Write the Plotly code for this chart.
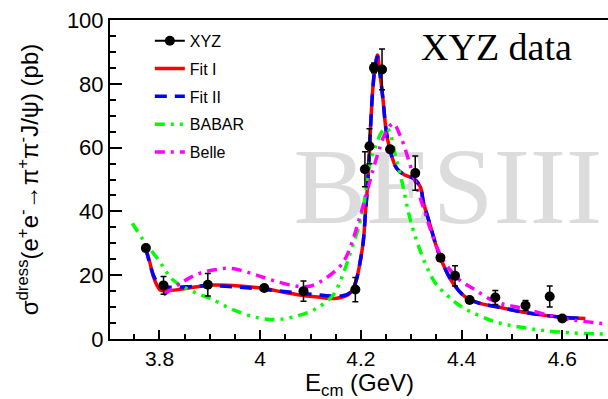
import plotly.graph_objects as go

# ---------------- data ----------------
xyz_x = [3.773, 3.808, 3.896, 4.008, 4.086, 4.189, 4.208, 4.217, 4.226, 4.242,
         4.258, 4.308, 4.358, 4.387, 4.416, 4.467, 4.527, 4.575, 4.600]
xyz_y = [28.5, 16.8, 17.0, 16.0, 15.0, 15.5, 53.2, 60.4, 85.0, 84.5,
         59.5, 52.0, 25.5, 19.8, 12.2, 13.0, 10.5, 13.3, 6.4]
xyz_err = [0.8, 2.8, 3.5, 0.8, 3.2, 3.8, 5.5, 5.5, 1.5, 6.4,
           1.0, 5.4, 1.0, 3.2, 0.8, 2.2, 1.6, 3.3, 0.8]

fit1_x = [3.773, 3.780, 3.788, 3.795, 3.801, 3.815, 3.834, 3.867, 3.907, 3.960,
          4.006, 4.052, 4.092, 4.119, 4.132, 4.152, 4.168, 4.178, 4.185, 4.191,
          4.198, 4.205, 4.209, 4.213, 4.216, 4.223, 4.228, 4.233, 4.237, 4.244,
          4.250, 4.258, 4.271, 4.287, 4.304, 4.318, 4.324, 4.337, 4.350, 4.363,
          4.383, 4.409, 4.440, 4.467, 4.527, 4.600, 4.646]
fit1_y = [28.2, 24.5, 19.5, 16.8, 15.4, 15.2, 15.4, 16.2, 16.9, 16.6,
          15.9, 14.5, 13.5, 13.1, 12.8, 12.8, 13.4, 14.3, 16.0, 18.5,
          23.7, 31.0, 39.4, 47.7, 56.0, 77.0, 85.3, 89.0, 84.3, 75.0,
          65.5, 59.2, 53.5, 51.4, 50.4, 47.7, 43.0, 36.0, 29.0, 23.5,
          17.5, 13.0, 11.0, 10.2, 8.3, 6.8, 6.4]

fit2_x = fit1_x
fit2_y = [28.2, 24.0, 20.0, 17.8, 16.6, 16.3, 16.2, 16.5, 16.7, 16.2,
          15.6, 14.8, 14.2, 13.8, 13.6, 13.4, 13.7, 14.5, 16.0, 18.5,
          23.7, 31.0, 39.4, 47.7, 56.0, 77.0, 85.0, 88.5, 84.3, 75.0,
          65.5, 59.2, 53.5, 51.4, 50.4, 47.7, 43.0, 36.0, 29.0, 23.5,
          17.5, 13.0, 11.0, 10.2, 8.3, 6.8, 6.4]

babar_x = [3.746, 3.768, 3.798, 3.827, 3.874, 3.900, 3.947, 4.000, 4.040, 4.079,
           4.112, 4.145, 4.165, 4.181, 4.194, 4.205, 4.211, 4.219, 4.229, 4.242,
           4.252, 4.259, 4.269, 4.282, 4.295, 4.308, 4.328, 4.348, 4.374, 4.401,
           4.467, 4.534, 4.600, 4.690]
babar_y = [36.3, 31.0, 24.8, 18.5, 14.3, 12.8, 9.1, 6.5, 6.2, 7.5,
           9.6, 13.8, 20.6, 27.9, 34.2, 41.5, 47.7, 56.0, 60.3, 65.0,
           66.0, 64.0, 57.2, 49.0, 39.4, 32.1, 23.7, 17.5, 13.3, 10.0,
           5.4, 3.3, 2.1, 1.5]

belle_x = [3.808, 3.847, 3.880, 3.914, 3.933, 3.960, 3.993, 4.033, 4.079, 4.100,
           4.125, 4.158, 4.171, 4.184, 4.198, 4.211, 4.224, 4.234, 4.247, 4.264,
           4.279, 4.297, 4.313, 4.330, 4.343, 4.363, 4.396, 4.422, 4.467, 4.521,
           4.600, 4.690]
belle_y = [13.8, 18.0, 20.6, 21.8, 22.2, 21.6, 20.0, 18.0, 16.4, 16.6,
           18.5, 22.7, 25.8, 31.0, 38.3, 45.5, 53.0, 58.2, 64.0, 67.5,
           63.4, 55.0, 46.7, 38.3, 32.1, 24.8, 18.5, 15.9, 11.7, 9.6,
           6.5, 4.7]

x_ticks = [3.8, 4.0, 4.2, 4.4, 4.6]
x_tick_labels = ["3.8", "4", "4.2", "4.4", "4.6"]
y_ticks = [0, 20, 40, 60, 80, 100]

FONT = "Liberation Sans, Arial, sans-serif"
SERIF = "Liberation Serif, Times New Roman, serif"

fig = go.Figure()

# watermark (drawn first so it sits behind the curves)
fig.add_trace(go.Scatter(
    x=[4.373], y=[45.0], mode="text", text=["BESIII"],
    textfont=dict(family=SERIF, size=109, color="#dcdcdc"),
    textposition="middle center", showlegend=False, hoverinfo="skip"))

# legend entry for data (no drawn points)
fig.add_trace(go.Scatter(
    x=[None], y=[None], mode="lines+markers", name="XYZ", legendgroup="g1",
    marker=dict(color="black", size=10), line=dict(color="black", width=2)))

fig.add_trace(go.Scatter(
    x=fit1_x, y=fit1_y, mode="lines", name="Fit I", legendgroup="g2",
    line=dict(color="#ff0000", width=3.5, shape="spline")))
fig.add_trace(go.Scatter(
    x=fit2_x, y=fit2_y, mode="lines", name="Fit II", legendgroup="g3",
    line=dict(color="#0000ff", width=3.5, dash="12px,8px", shape="spline")))
fig.add_trace(go.Scatter(
    x=babar_x, y=babar_y, mode="lines", name="BABAR", legendgroup="g4",
    line=dict(color="#00ff00", width=3.5, dash="10px,6px,3px,6px,3px,6px", shape="spline")))
fig.add_trace(go.Scatter(
    x=belle_x, y=belle_y, mode="lines", name="Belle", legendgroup="g5",
    line=dict(color="#ff00ff", width=3.5, dash="10px,6px,3px,6px", shape="spline")))

# data points
fig.add_trace(go.Scatter(
    x=xyz_x, y=xyz_y, mode="markers", name="XYZ", showlegend=False, legendgroup="g1",
    marker=dict(color="black", size=10),
    error_y=dict(type="data", array=xyz_err, color="black", thickness=1.5, width=3)))

fig.update_layout(
    width=608, height=399,
    margin=dict(l=110, r=0, t=20, b=60),
    paper_bgcolor="white", plot_bgcolor="white",
    font=dict(family=FONT, color="black"),
    showlegend=True,
    legend=dict(x=0.08, y=0.988, xanchor="left", yanchor="top",
                traceorder="grouped", tracegroupgap=4,
                bgcolor="rgba(255,255,255,0)", font=dict(family=FONT, size=16, color="black"),
                itemwidth=30),
    xaxis=dict(range=[3.7017, 4.6908], tickvals=x_ticks, ticktext=x_tick_labels,
               ticks="inside", ticklen=9, tickwidth=1.5, tickcolor="black",
               minor=dict(dtick=0.05, tick0=3.8, ticks="inside", ticklen=5, tickwidth=1.5, tickcolor="black"),
               showline=True, linecolor="black", linewidth=2, mirror=True,
               showgrid=False, zeroline=False,
               tickfont=dict(family=FONT, size=21, color="black")),
    yaxis=dict(range=[0, 100], tickvals=y_ticks,
               ticks="inside", ticklen=12, tickwidth=1.5, tickcolor="black",
               minor=dict(dtick=5, tick0=0, ticks="inside", ticklen=6, tickwidth=1.5, tickcolor="black"),
               showline=True, linecolor="black", linewidth=2, mirror=False,
               showgrid=False, zeroline=False,
               tickfont=dict(family=FONT, size=22, color="black")),
    annotations=[
        dict(text="XYZ data", xref="paper", yref="paper", x=0.777, y=0.915,
             xanchor="center", yanchor="middle", showarrow=False,
             font=dict(family=SERIF, size=38, color="black")),
        dict(text="E<sub>cm</sub> (GeV)", xref="paper", yref="paper", x=0.5, y=-0.144,
             xanchor="center", yanchor="middle", showarrow=False,
             font=dict(family=FONT, size=24, color="black")),
        dict(text="σ<sup>dress</sup>(e<sup>+</sup>e<sup>-</sup>→π<sup>+</sup>π<sup>-</sup>J/ψ) (pb)",
             xref="paper", yref="paper", x=-0.165, y=0.5, textangle=-90,
             xanchor="center", yanchor="middle", showarrow=False,
             font=dict(family=FONT, size=24, color="black")),
    ],
)

fig.write_html("out.html")
